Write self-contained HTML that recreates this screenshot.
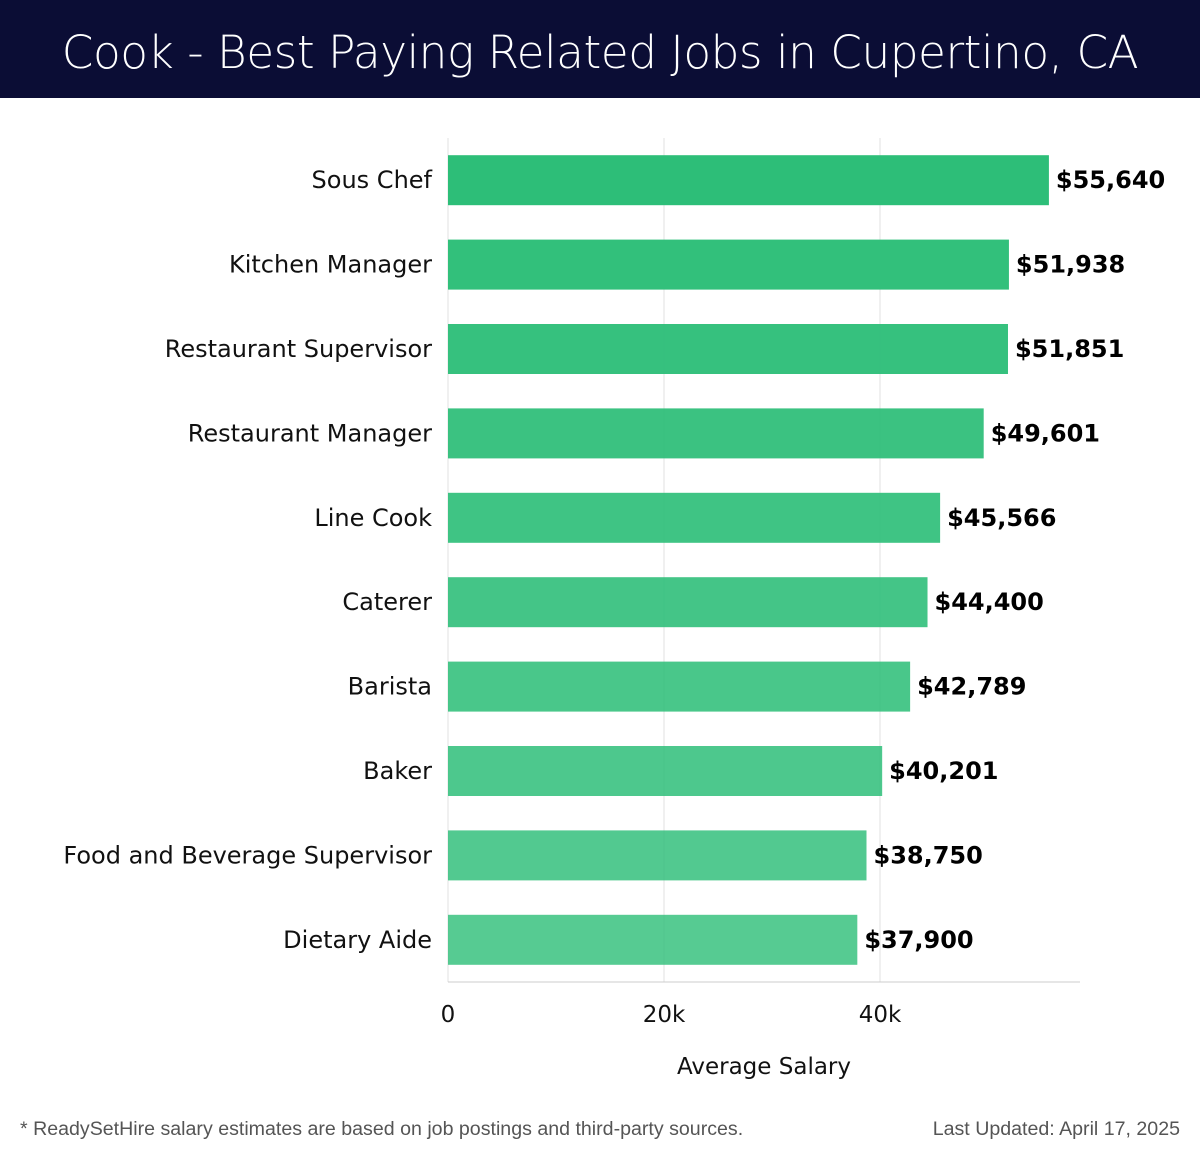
<!DOCTYPE html>
<html><head><meta charset="utf-8"><style>
body{margin:0;width:1200px;height:1158px;background:#fff;font-family:"Liberation Sans","DejaVu Sans",sans-serif;position:relative;overflow:hidden}
#hdr{position:absolute;left:0;top:0;width:1200px;height:98px;background:#0b0d35;color:#fff;font-size:45.4px;font-weight:300;text-align:center;line-height:106px;font-family:"DejaVu Sans","Liberation Sans",sans-serif;letter-spacing:-0.5px}
.foot{position:absolute;top:1118px;font-size:19.6px;color:#555}
svg text{font-family:"DejaVu Sans","Liberation Sans",sans-serif}
</style></head><body>
<div id="hdr">Cook - Best Paying Related Jobs in Cupertino, CA</div>
<svg id="chart" width="1200" height="1100" style="position:absolute;left:0;top:0"></svg>
<div class="foot" style="left:20px">* ReadySetHire salary estimates are based on job postings and third-party sources.</div>
<div class="foot" style="right:20px">Last Updated: April 17, 2025</div>
<script>
const categories=["Sous Chef","Kitchen Manager","Restaurant Supervisor","Restaurant Manager","Line Cook","Caterer","Barista","Baker","Food and Beverage Supervisor","Dietary Aide"];
const values=[55640,51938,51851,49601,45566,44400,42789,40201,38750,37900];
const valueLabels=["$55,640","$51,938","$51,851","$49,601","$45,566","$44,400","$42,789","$40,201","$38,750","$37,900"];
const ticks=[0,20000,40000];
const tickLabels=["0","20k","40k"];
const svg=document.getElementById('chart');
const NS="http://www.w3.org/2000/svg";
const x0=448,pxPer=216/20000,xMax=1080;
const x=v=>x0+v*pxPer;
const top0=138,bottom=982,step=(bottom-top0)/categories.length,barH=50;
const yc=i=>top0+step*i+step/2;
function mk(t,a){const e=document.createElementNS(NS,t);for(const k in a)e.setAttribute(k,a[k]);svg.appendChild(e);return e;}
ticks.forEach((t,i)=>{
 const g=mk('line',{x1:x(t),x2:x(t),y1:top0,y2:bottom,stroke:'#e2e2e2','stroke-width':1});
 
 
 const l=mk('text',{x:x(t),y:1022,'text-anchor':'middle','font-size':23,fill:'#111'});
 l.textContent=tickLabels[i];
 
 
});
const ax=mk('line',{x1:x0,x2:xMax,y1:bottom,y2:bottom,stroke:'#ccc','stroke-width':1});


categories.forEach((c,i)=>{
 const r=mk('rect',{x:x0,y:yc(i)-barH/2,width:x(values[i])-x0,height:barH,fill:'#2dbe78','fill-opacity':1-i*0.022});
 
 
 const lab=mk('text',{x:432,y:yc(i)+8,'text-anchor':'end','font-size':24,fill:'#111'});
 lab.textContent=c;
 
 
 const v=mk('text',{x:x(values[i])+7,y:yc(i)+8,'font-size':24,'font-weight':'bold',fill:'#000'});
 v.textContent=valueLabels[i];
 
 
});
const at=mk('text',{x:764,y:1074,'text-anchor':'middle','font-size':23,fill:'#111'});
at.textContent="Average Salary";


</script>
</body></html>
